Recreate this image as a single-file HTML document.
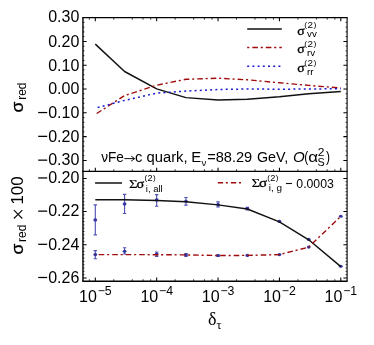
<!DOCTYPE html><html><head><meta charset="utf-8"><style>html,body{margin:0;padding:0;background:#fff}svg{display:block;will-change:transform}</style></head><body><svg width="374" height="345" viewBox="0 0 374 345">
<rect width="374" height="345" fill="#fff"/>
<path d="M95.30 17.60V21.30M95.30 171.35V167.65M95.30 281.30V277.60M156.68 17.60V21.30M156.68 171.35V167.65M156.68 281.30V277.60M218.05 17.60V21.30M218.05 171.35V167.65M218.05 281.30V277.60M279.43 17.60V21.30M279.43 171.35V167.65M279.43 281.30V277.60M340.80 17.60V21.30M340.80 171.35V167.65M340.80 281.30V277.60M82.95 160.40H86.65M347.10 160.40H343.40M82.95 136.60H86.65M347.10 136.60H343.40M82.95 112.80H86.65M347.10 112.80H343.40M82.95 89.00H86.65M347.10 89.00H343.40M82.95 65.20H86.65M347.10 65.20H343.40M82.95 41.40H86.65M347.10 41.40H343.40M82.95 277.94H86.65M347.10 277.94H343.40M82.95 244.76H86.65M347.10 244.76H343.40M82.95 211.58H86.65M347.10 211.58H343.40M82.95 178.40H86.65M347.10 178.40H343.40" stroke="#000" stroke-width="1.05" fill="none"/>
<path d="M89.35 17.60V19.70M89.35 171.35V169.25M89.35 281.30V279.20M113.78 17.60V19.70M113.78 171.35V169.25M113.78 281.30V279.20M132.25 17.60V19.70M132.25 171.35V169.25M132.25 281.30V279.20M143.06 17.60V19.70M143.06 171.35V169.25M143.06 281.30V279.20M150.73 17.60V19.70M150.73 171.35V169.25M150.73 281.30V279.20M175.15 17.60V19.70M175.15 171.35V169.25M175.15 281.30V279.20M193.63 17.60V19.70M193.63 171.35V169.25M193.63 281.30V279.20M204.43 17.60V19.70M204.43 171.35V169.25M204.43 281.30V279.20M212.10 17.60V19.70M212.10 171.35V169.25M212.10 281.30V279.20M236.53 17.60V19.70M236.53 171.35V169.25M236.53 281.30V279.20M255.00 17.60V19.70M255.00 171.35V169.25M255.00 281.30V279.20M265.81 17.60V19.70M265.81 171.35V169.25M265.81 281.30V279.20M273.48 17.60V19.70M273.48 171.35V169.25M273.48 281.30V279.20M297.90 17.60V19.70M297.90 171.35V169.25M297.90 281.30V279.20M316.38 17.60V19.70M316.38 171.35V169.25M316.38 281.30V279.20M327.18 17.60V19.70M327.18 171.35V169.25M327.18 281.30V279.20M334.85 17.60V19.70M334.85 171.35V169.25M334.85 281.30V279.20M82.95 155.64H84.50M347.10 155.64H345.55M82.95 150.88H84.50M347.10 150.88H345.55M82.95 146.12H84.50M347.10 146.12H345.55M82.95 141.36H84.50M347.10 141.36H345.55M82.95 131.84H84.50M347.10 131.84H345.55M82.95 127.08H84.50M347.10 127.08H345.55M82.95 122.32H84.50M347.10 122.32H345.55M82.95 117.56H84.50M347.10 117.56H345.55M82.95 108.04H84.50M347.10 108.04H345.55M82.95 103.28H84.50M347.10 103.28H345.55M82.95 98.52H84.50M347.10 98.52H345.55M82.95 93.76H84.50M347.10 93.76H345.55M82.95 84.24H84.50M347.10 84.24H345.55M82.95 79.48H84.50M347.10 79.48H345.55M82.95 74.72H84.50M347.10 74.72H345.55M82.95 69.96H84.50M347.10 69.96H345.55M82.95 60.44H84.50M347.10 60.44H345.55M82.95 55.68H84.50M347.10 55.68H345.55M82.95 50.92H84.50M347.10 50.92H345.55M82.95 46.16H84.50M347.10 46.16H345.55M82.95 36.64H84.50M347.10 36.64H345.55M82.95 31.88H84.50M347.10 31.88H345.55M82.95 27.12H84.50M347.10 27.12H345.55M82.95 22.36H84.50M347.10 22.36H345.55M82.95 274.62H84.50M347.10 274.62H345.55M82.95 271.30H84.50M347.10 271.30H345.55M82.95 267.99H84.50M347.10 267.99H345.55M82.95 264.67H84.50M347.10 264.67H345.55M82.95 261.35H84.50M347.10 261.35H345.55M82.95 258.03H84.50M347.10 258.03H345.55M82.95 254.71H84.50M347.10 254.71H345.55M82.95 251.40H84.50M347.10 251.40H345.55M82.95 248.08H84.50M347.10 248.08H345.55M82.95 241.44H84.50M347.10 241.44H345.55M82.95 238.12H84.50M347.10 238.12H345.55M82.95 234.81H84.50M347.10 234.81H345.55M82.95 231.49H84.50M347.10 231.49H345.55M82.95 228.17H84.50M347.10 228.17H345.55M82.95 224.85H84.50M347.10 224.85H345.55M82.95 221.53H84.50M347.10 221.53H345.55M82.95 218.22H84.50M347.10 218.22H345.55M82.95 214.90H84.50M347.10 214.90H345.55M82.95 208.26H84.50M347.10 208.26H345.55M82.95 204.94H84.50M347.10 204.94H345.55M82.95 201.63H84.50M347.10 201.63H345.55M82.95 198.31H84.50M347.10 198.31H345.55M82.95 194.99H84.50M347.10 194.99H345.55M82.95 191.67H84.50M347.10 191.67H345.55M82.95 188.35H84.50M347.10 188.35H345.55M82.95 185.04H84.50M347.10 185.04H345.55M82.95 181.72H84.50M347.10 181.72H345.55" stroke="#000" stroke-width="0.75" fill="none"/>
<path d="M82.25 17.6H347.65000000000003M82.25 171.35H347.65000000000003" stroke="#000" stroke-width="1.3" fill="none"/>
<path d="M82.25 281.3H347.65000000000003" stroke="#000" stroke-width="1.4" fill="none"/>
<path d="M82.95 17.6V281.3" stroke="#000" stroke-width="1.4" fill="none"/>
<path d="M347.1 17.6V281.3" stroke="#000" stroke-width="1.1" fill="none"/>
<path d="M95.30 44.10 L124.58 71.50 L156.68 88.90 L185.96 97.60 L218.05 100.00 L247.33 99.20 L279.43 96.80 L308.71 93.80 L340.80 91.50" stroke="#111" stroke-width="1.45" fill="none" stroke-linejoin="round"/>
<path d="M95.30 114.40 L124.58 95.60 L156.68 85.20 L185.96 79.30 L218.05 78.20 L247.33 79.80 L279.43 82.80 L308.71 85.40 L340.80 88.00" stroke="#a00c0c" stroke-width="1.4" fill="none" stroke-dasharray="2.1 3 5.6 2.8" stroke-dashoffset="3.45"/>
<path d="M95.30 108.20 L124.58 100.40 L156.68 93.10 L185.96 91.10 L218.05 89.50 L247.33 89.00 L279.43 89.20 L308.71 89.00 L340.80 88.70" stroke="#1a1ad0" stroke-width="1.5" fill="none" stroke-dasharray="2 3.2" stroke-dashoffset="2.8"/>
<path d="M247.2 29H281.8" stroke="#111" stroke-width="1.5"/>
<path d="M247.2 47.6H281.8" stroke="#a00c0c" stroke-width="1.5" stroke-dasharray="2.1 3 5.6 2.8"/>
<path d="M247.2 66.2H281.8" stroke="#1a1ad0" stroke-width="1.5" stroke-dasharray="2 3.2"/>
<text stroke="#000" stroke-width="0.3" transform="translate(297.27 34.60) scale(1.0447 1.0)" font-family="Liberation Serif, serif" font-size="13.2" fill="#000">σ</text>
<text transform="translate(304.30 28.30) scale(1 0.89)" font-family="Liberation Sans, sans-serif" font-size="9.9"><tspan font-size="8.7" dy="-1.0">(</tspan><tspan dy="1.0" dx="0.4">2</tspan><tspan font-size="8.7" dy="-1.0" dx="0.4">)</tspan></text>
<text x="307.0" y="37.300000000000004" font-family="Liberation Sans, sans-serif" font-size="9.8">vv</text>
<text stroke="#000" stroke-width="0.3" transform="translate(297.27 53.40) scale(1.0447 1.0)" font-family="Liberation Serif, serif" font-size="13.2" fill="#000">σ</text>
<text transform="translate(304.30 47.10) scale(1 0.89)" font-family="Liberation Sans, sans-serif" font-size="9.9"><tspan font-size="8.7" dy="-1.0">(</tspan><tspan dy="1.0" dx="0.4">2</tspan><tspan font-size="8.7" dy="-1.0" dx="0.4">)</tspan></text>
<text x="307.0" y="56.1" font-family="Liberation Sans, sans-serif" font-size="9.8">rv</text>
<text stroke="#000" stroke-width="0.3" transform="translate(297.27 72.00) scale(1.0447 1.0)" font-family="Liberation Serif, serif" font-size="13.2" fill="#000">σ</text>
<text transform="translate(304.30 65.70) scale(1 0.89)" font-family="Liberation Sans, sans-serif" font-size="9.9"><tspan font-size="8.7" dy="-1.0">(</tspan><tspan dy="1.0" dx="0.4">2</tspan><tspan font-size="8.7" dy="-1.0" dx="0.4">)</tspan></text>
<text x="307.0" y="74.7" font-family="Liberation Sans, sans-serif" font-size="9.8">rr</text>
<text transform="translate(101.20 162.40) scale(0.9525 1.0)" font-family="Liberation Sans, sans-serif" font-size="14.3" fill="#000">νFe</text>
<path d="M124.3 158.6H134.3M131.2 156.1L134.7 158.6L131.2 161.1" stroke="#111" stroke-width="1" fill="none"/>
<text transform="translate(134.97 162.40) scale(1.0352 1.0)" font-family="Liberation Sans, sans-serif" font-size="14.3" fill="#000">c quark,</text>
<text transform="translate(191.27 162.40) scale(1.0451 1.0)" font-family="Liberation Sans, sans-serif" font-size="14.3" fill="#000">E</text>
<text transform="translate(201.50 165.90) scale(0.9922 1.0)" font-family="Liberation Sans, sans-serif" font-size="9.6" fill="#000">ν</text>
<text transform="translate(207.19 162.40) scale(1.0220 1.0)" font-family="Liberation Sans, sans-serif" font-size="14.3" fill="#000">=88.29</text>
<text transform="translate(256.88 162.40) scale(1.0006 1.0)" font-family="Liberation Sans, sans-serif" font-size="14.3" fill="#000">GeV,</text>
<text transform="translate(292.98 162.40) scale(1.0553 1.0)" font-family="Liberation Sans, sans-serif" font-style="italic" font-size="14.3" fill="#000">O</text>
<text transform="translate(304.35 162.40) scale(0.8440 1.0)" font-family="Liberation Sans, sans-serif" font-size="14.3" fill="#000">(</text>
<text transform="translate(308.29 162.40) scale(1.1854 1.0)" font-family="Liberation Sans, sans-serif" font-size="14.3" fill="#000">α</text>
<text transform="translate(317.69 156.00) scale(1.1836 1.0)" font-family="Liberation Sans, sans-serif" font-size="10.2" fill="#000">2</text>
<text transform="translate(317.51 166.40) scale(1.0456 1.0)" font-family="Liberation Sans, sans-serif" font-size="10.3" fill="#000">S</text>
<text transform="translate(325.93 162.40) scale(0.8440 1.0)" font-family="Liberation Sans, sans-serif" font-size="14.3" fill="#000">)</text>
<text x="79.3" y="22.05" font-family="Liberation Sans, sans-serif" font-size="16" text-anchor="end">0.30</text>
<text x="79.3" y="47.25" font-family="Liberation Sans, sans-serif" font-size="16" text-anchor="end">0.20</text>
<text x="79.3" y="71.05" font-family="Liberation Sans, sans-serif" font-size="16" text-anchor="end">0.10</text>
<text x="79.3" y="94.05" font-family="Liberation Sans, sans-serif" font-size="16" text-anchor="end">0.00</text>
<text x="79.3" y="117.85" font-family="Liberation Sans, sans-serif" font-size="16" text-anchor="end">0.10</text>
<path d="M38.2 112.55H47.2" stroke="#000" stroke-width="1.25"/>
<text x="79.3" y="141.65" font-family="Liberation Sans, sans-serif" font-size="16" text-anchor="end">0.20</text>
<path d="M38.2 136.35H47.2" stroke="#000" stroke-width="1.25"/>
<text x="79.3" y="165.45" font-family="Liberation Sans, sans-serif" font-size="16" text-anchor="end">0.30</text>
<path d="M38.2 160.15H47.2" stroke="#000" stroke-width="1.25"/>
<text x="79.3" y="183.25" font-family="Liberation Sans, sans-serif" font-size="16" text-anchor="end">0.20</text>
<path d="M38.2 177.95H47.2" stroke="#000" stroke-width="1.25"/>
<text x="79.3" y="216.43" font-family="Liberation Sans, sans-serif" font-size="16" text-anchor="end">0.22</text>
<path d="M38.2 211.13H47.2" stroke="#000" stroke-width="1.25"/>
<text x="79.3" y="249.61" font-family="Liberation Sans, sans-serif" font-size="16" text-anchor="end">0.24</text>
<path d="M38.2 244.31H47.2" stroke="#000" stroke-width="1.25"/>
<text x="79.3" y="282.79" font-family="Liberation Sans, sans-serif" font-size="16" text-anchor="end">0.26</text>
<path d="M38.2 277.49H47.2" stroke="#000" stroke-width="1.25"/>
<text x="79.10" y="301.8" font-family="Liberation Sans, sans-serif" font-size="16">10<tspan font-size="12.3" dy="-6.6" dx="0.8">−5</tspan></text>
<text x="140.48" y="301.8" font-family="Liberation Sans, sans-serif" font-size="16">10<tspan font-size="12.3" dy="-6.6" dx="0.8">−4</tspan></text>
<text x="201.85" y="301.8" font-family="Liberation Sans, sans-serif" font-size="16">10<tspan font-size="12.3" dy="-6.6" dx="0.8">−3</tspan></text>
<text x="263.23" y="301.8" font-family="Liberation Sans, sans-serif" font-size="16">10<tspan font-size="12.3" dy="-6.6" dx="0.8">−2</tspan></text>
<text x="324.60" y="301.8" font-family="Liberation Sans, sans-serif" font-size="16">10<tspan font-size="12.3" dy="-6.6" dx="0.8">−1</tspan></text>
<text x="207.9" y="325.3" font-family="Liberation Serif, serif" font-size="18">δ<tspan font-size="12.5" dy="4">τ</tspan></text>
<text transform="translate(22.8 112.4) rotate(-90) scale(1.08 1)" font-family="Liberation Sans, sans-serif" font-size="16.3" stroke="#000" stroke-width="0.3">σ</text>
<text transform="translate(25.9 99.8) rotate(-90)" font-family="Liberation Sans, sans-serif" font-size="12">red</text>
<text transform="translate(22.8 254.5) rotate(-90) scale(1.08 1)" font-family="Liberation Sans, sans-serif" font-size="16.3" stroke="#000" stroke-width="0.3">σ</text>
<text transform="translate(25.9 241.9) rotate(-90)" font-family="Liberation Sans, sans-serif" font-size="12">red</text>
<path d="M13.9 210.1L22.3 218.5M22.3 210.1L13.9 218.5" stroke="#111" stroke-width="1.2" fill="none"/>
<text transform="translate(22.6 204.5) rotate(-90)" font-family="Liberation Sans, sans-serif" font-size="16.8">100</text>
<path d="M95.30 204.80V234.90M93.60 204.80h3.4M93.60 234.90h3.4" stroke="#5252b2" stroke-width="1.15" fill="none"/>
<ellipse cx="95.30" cy="219.90" rx="1.9" ry="1.55" fill="#3434a4"/>
<path d="M124.58 194.30V213.50M122.88 194.30h3.4M122.88 213.50h3.4" stroke="#5252b2" stroke-width="1.15" fill="none"/>
<ellipse cx="124.58" cy="203.90" rx="1.9" ry="1.55" fill="#3434a4"/>
<path d="M156.68 194.60V206.20M154.98 194.60h3.4M154.98 206.20h3.4" stroke="#5252b2" stroke-width="1.15" fill="none"/>
<ellipse cx="156.68" cy="199.90" rx="1.9" ry="1.55" fill="#3434a4"/>
<path d="M185.96 197.50V205.10M184.26 197.50h3.4M184.26 205.10h3.4" stroke="#5252b2" stroke-width="1.15" fill="none"/>
<ellipse cx="185.96" cy="201.30" rx="1.9" ry="1.55" fill="#3434a4"/>
<path d="M218.05 201.90V206.80M216.35 201.90h3.4M216.35 206.80h3.4" stroke="#5252b2" stroke-width="1.15" fill="none"/>
<ellipse cx="218.05" cy="204.50" rx="1.9" ry="1.55" fill="#3434a4"/>
<path d="M247.33 207.30V209.90M245.63 207.30h3.4M245.63 209.90h3.4" stroke="#5252b2" stroke-width="1.15" fill="none"/>
<ellipse cx="247.33" cy="208.60" rx="1.9" ry="1.55" fill="#3434a4"/>
<ellipse cx="279.43" cy="221.40" rx="1.9" ry="1.55" fill="#3434a4"/>
<ellipse cx="308.71" cy="239.40" rx="1.9" ry="1.55" fill="#3434a4"/>
<ellipse cx="340.80" cy="266.20" rx="1.9" ry="1.55" fill="#3434a4"/>
<path d="M95.30 250.60V258.70M93.60 250.60h3.4M93.60 258.70h3.4" stroke="#5252b2" stroke-width="1.15" fill="none"/>
<ellipse cx="95.30" cy="254.60" rx="1.9" ry="1.55" fill="#3434a4"/>
<path d="M124.58 247.70V254.00M122.88 247.70h3.4M122.88 254.00h3.4" stroke="#5252b2" stroke-width="1.15" fill="none"/>
<ellipse cx="124.58" cy="251.20" rx="1.9" ry="1.55" fill="#3434a4"/>
<path d="M156.68 252.00V256.40M154.98 252.00h3.4M154.98 256.40h3.4" stroke="#5252b2" stroke-width="1.15" fill="none"/>
<ellipse cx="156.68" cy="254.00" rx="1.9" ry="1.55" fill="#3434a4"/>
<path d="M185.96 253.50V256.30M184.26 253.50h3.4M184.26 256.30h3.4" stroke="#5252b2" stroke-width="1.15" fill="none"/>
<ellipse cx="185.96" cy="254.90" rx="1.9" ry="1.55" fill="#3434a4"/>
<path d="M218.05 254.70V256.30M216.35 254.70h3.4M216.35 256.30h3.4" stroke="#5252b2" stroke-width="1.15" fill="none"/>
<ellipse cx="218.05" cy="255.50" rx="1.9" ry="1.55" fill="#3434a4"/>
<ellipse cx="247.33" cy="255.40" rx="1.9" ry="1.55" fill="#3434a4"/>
<ellipse cx="279.43" cy="254.60" rx="1.9" ry="1.55" fill="#3434a4"/>
<ellipse cx="308.71" cy="247.10" rx="1.9" ry="1.55" fill="#3434a4"/>
<ellipse cx="340.80" cy="216.30" rx="1.9" ry="1.55" fill="#3434a4"/>
<path d="M95.30 199.70 L124.58 199.80 L156.68 200.50 L185.96 201.70 L218.05 204.90 L247.33 209.00 L279.43 221.80 L308.71 239.80 L340.80 266.60" stroke="#111" stroke-width="1.4" fill="none" stroke-linejoin="round"/>
<path d="M95.30 254.60 L124.58 254.60 L156.68 254.70 L185.96 254.90 L218.05 255.50 L247.33 255.40 L279.43 254.60 L308.71 247.10 L340.80 216.30" stroke="#a00c0c" stroke-width="1.4" fill="none" stroke-dasharray="2.1 3 5.6 2.8" stroke-dashoffset="1.7"/>
<path d="M95.1 183H122" stroke="#111" stroke-width="1.5"/>
<path d="M217.8 182.8H241.5" stroke="#a00c0c" stroke-width="1.5" stroke-dasharray="5.3 2.8 2 3"/>
<text stroke="#000" stroke-width="0.1" transform="translate(128.92 187.80) scale(1.1949 1.0)" font-family="Liberation Serif, serif" font-size="12.4" fill="#000">Σ</text>
<text stroke="#000" stroke-width="0.3" transform="translate(136.55 187.80) scale(1.0915 1.0)" font-family="Liberation Serif, serif" font-size="13.2" fill="#000">σ</text>
<text transform="translate(144.40 181.20) scale(0.93 0.89)" font-family="Liberation Sans, sans-serif" font-size="9.9"><tspan font-size="8.7" dy="-1.0">(</tspan><tspan dy="1.0" dx="0.4">2</tspan><tspan font-size="8.7" dy="-1.0" dx="0.4">)</tspan></text>
<text transform="translate(145.76 191.70) scale(0.9742 1.0)" font-family="Liberation Sans, sans-serif" font-size="9.8" fill="#000">i, all</text>
<text stroke="#000" stroke-width="0.1" transform="translate(251.41 187.30) scale(1.2113 1.0)" font-family="Liberation Serif, serif" font-size="12.4" fill="#000">Σ</text>
<text stroke="#000" stroke-width="0.3" transform="translate(259.03 187.30) scale(1.1383 1.0)" font-family="Liberation Serif, serif" font-size="13.2" fill="#000">σ</text>
<text transform="translate(267.20 180.70) scale(0.93 0.89)" font-family="Liberation Sans, sans-serif" font-size="9.9"><tspan font-size="8.7" dy="-1.0">(</tspan><tspan dy="1.0" dx="0.4">2</tspan><tspan font-size="8.7" dy="-1.0" dx="0.4">)</tspan></text>
<text transform="translate(268.83 191.00) scale(1.0182 1.0)" font-family="Liberation Sans, sans-serif" font-size="9.8" fill="#000">i, g</text>
<path d="M285.9 183.5H292" stroke="#111" stroke-width="1.1"/>
<text transform="translate(296.32 187.70) scale(0.9364 1.0)" font-family="Liberation Sans, sans-serif" font-size="13.1" fill="#000">0.0003</text>
</svg></body></html>
